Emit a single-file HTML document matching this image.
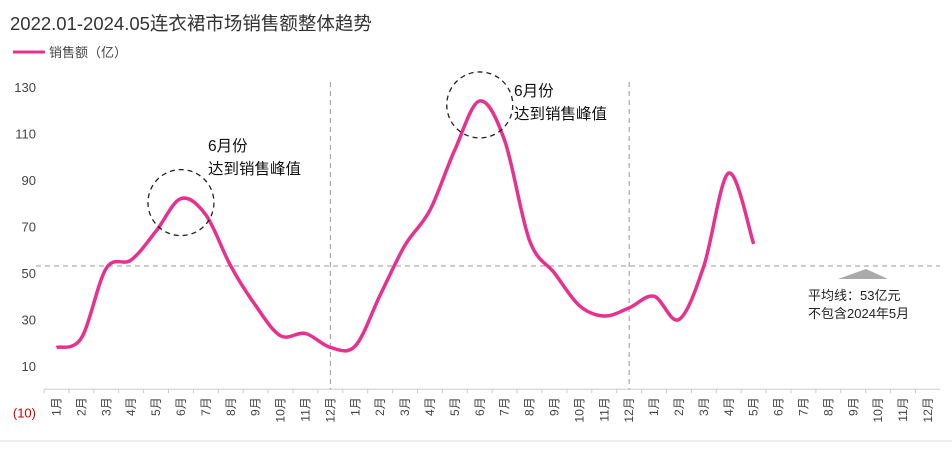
<!DOCTYPE html>
<html><head><meta charset="utf-8">
<style>
body{margin:0;background:#fff;font-family:"Liberation Sans","Noto Sans CJK SC",sans-serif;}
svg text{font-family:"Liberation Sans","Noto Sans CJK SC",sans-serif;}
</style></head>
<body>
<svg id="c" width="952" height="446" viewBox="0 0 952 446">
<text x="10" y="30" font-size="18.5" fill="#333">2022.01-2024.05连衣裙市场销售额整体趋势</text>
<g>
<line x1="13" y1="52" x2="45" y2="52" stroke="#e8318f" stroke-width="3"/>
<text x="49" y="57" font-size="13" fill="#444">销售额（亿）</text>
</g>
<g id="grid"></g>
<g id="marks"></g>
<text x="808" y="300" font-size="13" fill="#222">平均线：53亿元</text>
<text x="808" y="318" font-size="13" fill="#222">不包含2024年5月</text>
<polygon points="838,279 866,269 888,279" fill="#aaa"/>
<text x="208" y="151" font-size="15.5" fill="#111">6月份</text>
<text x="208" y="174" font-size="15.5" fill="#111">达到销售峰值</text>
<text x="514" y="96" font-size="15.5" fill="#111">6月份</text>
<text x="514" y="119" font-size="15.5" fill="#111">达到销售峰值</text>
<line x1="0" y1="441" x2="952" y2="441" stroke="#ddd"/>
</svg>
<script>
const months=["1月","2月","3月","4月","5月","6月","7月","8月","9月","10月","11月","12月","1月","2月","3月","4月","5月","6月","7月","8月","9月","10月","11月","12月","1月","2月","3月","4月","5月","6月","7月","8月","9月","10月","11月","12月"];
const sales=[18,22,52,55.6,68,82,75,53,36,23,24,18,18.6,40.5,62,77,103,124,107,64,50,36,31.5,35,40,30,53,93,62.5];
const yTicks=[-10,10,30,50,70,90,110,130];
const average=53;
const peaks=[5,17];
const dividers=[11,23];
const NS="http://www.w3.org/2000/svg";
const x0=44,bw=24.9;
function xs(i){return x0+bw*(i+0.5);}
function ys(v){return 366-(v-10)*2.325;}
function mk(t,a,p){const e=document.createElementNS(NS,t);for(const k in a)e.setAttribute(k,a[k]);(p||document.getElementById('grid')).appendChild(e);return e;}
const g=document.getElementById('grid'),m=document.getElementById('marks');
yTicks.forEach(v=>{
 const t=mk('text',{x:36,y:ys(v)+5,'text-anchor':'end','font-size':13,fill:v<0?'#c00':'#444'},g);
 t.textContent=v<0?'('+Math.abs(v)+')':v;
 
 
});
const ax=mk('line',{x1:x0,x2:x0+bw*months.length,y1:ys(0),y2:ys(0),stroke:'#ccc','stroke-width':1},g);


months.forEach((lab,i)=>{
 mk('line',{x1:x0+bw*i,x2:x0+bw*i,y1:ys(0),y2:ys(0)+4,stroke:'#ccc'},g);
 const t=mk('text',{transform:`translate(${xs(i)+4},${ys(0)+8}) rotate(-90)`,'text-anchor':'end','font-size':12,fill:'#444'},g);
 t.textContent=lab;
 
 
});
dividers.forEach(i=>{
 const l=mk('line',{x1:xs(i),x2:xs(i),y1:82,y2:ys(0),stroke:'#999','stroke-dasharray':'5,4'},g);
 
 
});
const av=mk('line',{x1:x0-8,x2:940,y1:ys(average),y2:ys(average),stroke:'#999','stroke-dasharray':'5,4'},g);


const P=sales.map((v,i)=>[xs(i),ys(v)]);
let d=`M${P[0][0]},${P[0][1]}`;
for(let i=0;i<P.length-1;i++){
 const p0=P[i-1]||P[i],p1=P[i],p2=P[i+1],p3=P[i+2]||P[i+1];
 d+=` C${p1[0]+(p2[0]-p0[0])/6},${p1[1]+(p2[1]-p0[1])/6} ${p2[0]-(p3[0]-p1[0])/6},${p2[1]-(p3[1]-p1[1])/6} ${p2[0]},${p2[1]}`;
}
const path=mk('path',{d:d,fill:'none',stroke:'#e8318f','stroke-width':3.5,'stroke-linejoin':'round'},m);


peaks.forEach(i=>{
 const c=mk('circle',{cx:xs(i),cy:ys(sales[i])+4,r:33,fill:'none',stroke:'#222','stroke-width':1.3,'stroke-dasharray':'5,4'},m);
 
 
});
</script>
</body></html>
